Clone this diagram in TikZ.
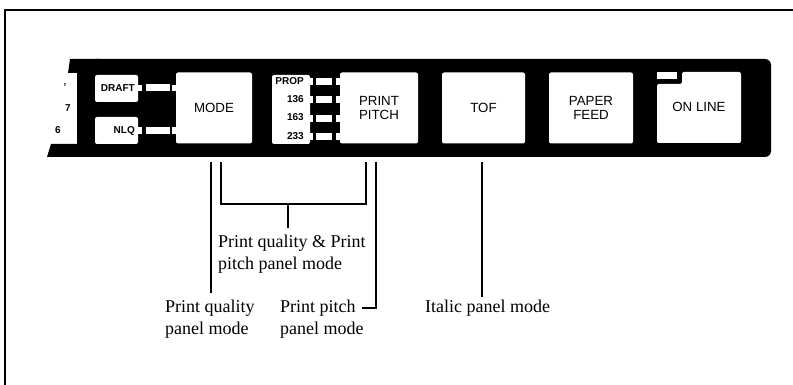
\documentclass[tikz,border=0pt]{standalone}
\usepackage{fontspec}
\setmainfont{Liberation Serif}
\setsansfont{Liberation Sans}
\begin{document}
\begin{tikzpicture}[x=1pt,y=-1pt,
  btn/.style={fill=white, rounded corners=2pt, inner sep=0pt, align=center,
    font=\sffamily\fontsize{13.3}{14.5}\selectfont},
  lbl/.style={inner sep=0pt, font=\sffamily\bfseries\fontsize{10}{11}\selectfont},
  captxt/.style={inner sep=0pt, anchor=north west, align=left,
    font=\fontsize{18}{22}\selectfont},
  lead/.style={line width=1.2pt},
  led/.style={fill=white}]
\useasboundingbox (0,0) rectangle (793,385);
% frame
\coordinate (f1) at (5,385);
\coordinate (f2) at (5,10);
\coordinate (f3) at (793,10);
\draw[line width=1.2pt] (f1) -- (f2) -- (f3);
% black panel
\fill[black, rounded corners=6pt] (90,59) rectangle (771,157);
\fill[black] (68,73) -- (70,59) -- (100,59) -- (100,157) -- (47,157) -- (51,144) -- (77,144) -- (77,73) -- cycle;
% left partial numbers
\node[lbl] (n9) at (65,87) {’};
\node[lbl] (n7) at (68,108) {7};
\node[lbl] (n6) at (58,130) {6};
% print quality boxes
\node[btn, minimum width=43pt, minimum height=27pt] (draftbox) at (116.5,88.5) {};
\node[btn, minimum width=43pt, minimum height=27pt] (nlqbox) at (116.5,130.5) {};
\node[lbl, anchor=east] (draft) at (135,88) {DRAFT};
\node[lbl, anchor=east] (nlq) at (135,131) {NLQ};
% LEDs quality
\fill[led] (137,85) rectangle (142,91);
\fill[led] (146,84.5) rectangle (170,91);
\fill[led] (172,85) rectangle (177,91);
\fill[led] (137,127) rectangle (142,134);
\fill[led] (146,127) rectangle (170,134);
\fill[led] (172,127) rectangle (177,134);
% MODE
\node[btn, minimum width=76pt, minimum height=71pt] (mode) at (214,108) {MODE};
% pitch labels
\node[btn, minimum width=38pt, minimum height=69pt] (pitchbox) at (291,109.5) {};
\node[lbl, anchor=east] (prop) at (304,81) {PROP};
\node[lbl, anchor=east] (p136) at (304,99) {136};
\node[lbl, anchor=east] (p163) at (304,117.5) {163};
\node[lbl, anchor=east] (p233) at (304,136) {233};
\foreach \ya/\yb in {78/85, 96/103, 115/122, 133/140}{
  \fill[led] (309,\ya) rectangle (313,\yb);
  \fill[led] (316,\ya) rectangle (332,\yb);
  \fill[led] (336,\ya) rectangle (341,\yb);
}
% PRINT PITCH
\node[btn, minimum width=78pt, minimum height=71pt] (pitch) at (379,108) {PRINT\\PITCH};
% TOF
\node[btn, minimum width=83pt, minimum height=71pt] (tof) at (483.5,108) {TOF};
% PAPER FEED
\node[btn, minimum width=84pt, minimum height=71pt] (feed) at (591,108) {PAPER\\FEED};
% ON LINE
\fill[white, rounded corners=2pt] (682,72) -- (741,72) -- (741,143) -- (657,143) -- (657,84) -- (682,84) -- cycle;
\fill[led] (657,72) rectangle (677,79);
\node[btn, fill=none] (online) at (699,107) {ON LINE};
% leader coordinates
\coordinate (qa) at (211,162);
\coordinate (qb) at (211,293);
\coordinate (ba) at (221,162);
\coordinate (bb) at (221,204);
\coordinate (bc) at (366,204);
\coordinate (bd) at (366,162);
\coordinate (bs) at (288,204);
\coordinate (bt) at (288,228);
\coordinate (pa) at (376,162);
\coordinate (pb) at (376,308);
\coordinate (pc) at (362,308);
\coordinate (ia) at (482,162);
\coordinate (ib) at (482,297);
\draw[lead] (qa) -- (qb);
\draw[lead] (ba) -- (bb) -- (bc) -- (bd);
\draw[lead] (bs) -- (bt);
\draw[lead] (pa) -- (pb) -- (pc);
\draw[lead] (ia) -- (ib);
% captions
\node[captxt] (both) at (218,235) {Print quality \& Print\\pitch panel mode};
\node[captxt] (pq) at (165,300) {Print quality\\panel mode};
\node[captxt] (pp) at (280,300) {Print pitch\\panel mode};
\node[captxt] (it) at (425,300) {Italic panel mode};
\end{tikzpicture}
\end{document}
